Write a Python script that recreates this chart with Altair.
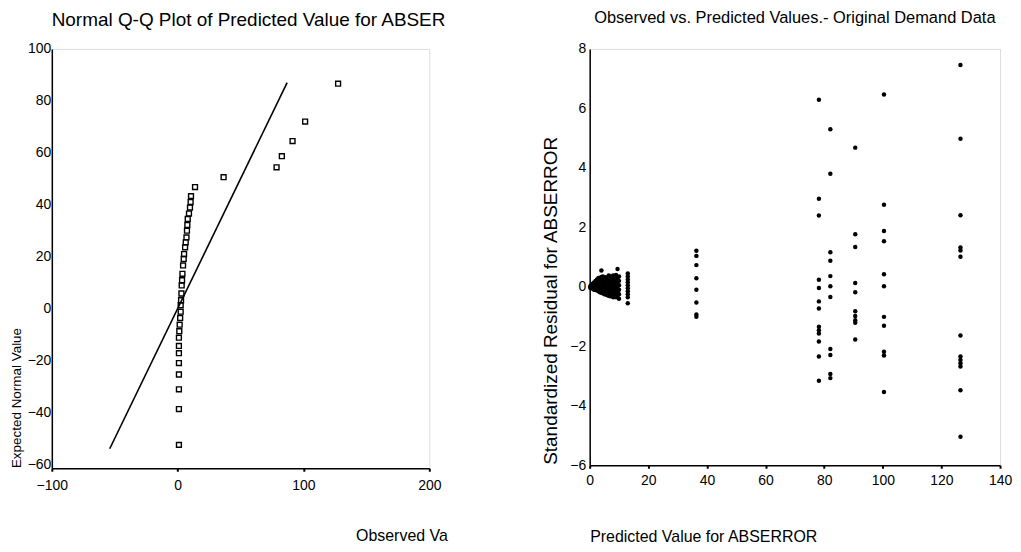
import altair as alt
import pandas as pd

FONT = "Liberation Sans"

# ---------------- Left panel: Normal Q-Q plot ----------------
qq_observed = [1.0, 1.0, 1.0, 1.0, 1.0, 1.0, 1.0, 1.0, 1.3, 1.6, 2.0, 2.4, 2.4, 2.7,
               3.0, 3.2, 3.5, 3.8, 4.3, 4.8, 5.1, 5.9, 6.4, 7.0, 7.4, 7.7, 8.0,
               9.0, 9.8, 10.3, 10.6, 13.8, 36.5, 78.6, 82.8, 91.3, 101.3, 127.5]
qq_expected = [-52.5, -38.7, -31.1, -25.4, -21.0, -17.2, -14.4, -11.2, -8.7, -6.2,
               -3.6, -1.2, 1.3, 3.2, 5.8, 8.9, 10.9, 13.4, 16.6, 19.1, 21.0, 23.6,
               25.5, 27.4, 30.0, 32.2, 34.5, 36.6, 38.9, 41.0, 43.3, 46.8, 50.6,
               54.4, 58.7, 64.5, 72.0, 86.6]
ref_line_x = [-54, 87]
ref_line_y = [-54, 87]
qq_x_ticks = [-100, 0, 100, 200]
qq_y_ticks = [-60, -40, -20, 0, 20, 40, 60, 80, 100]

# ---------------- Right panel: residuals vs predicted ----------------
cluster_x = ([0.2] * 2 + [0.5] * 3 + [1.0] * 3 + [1.5] * 4 + [2.0] * 4 + [2.5] * 4 +
             [3.0] * 5 + [3.5] * 5 + [4.0] * 6 + [4.5] * 6 + [5.0] * 5 + [5.5] * 5 +
             [6.0] * 5 + [6.5] * 6 + [7.0] * 6 + [7.5] * 5 + [8.0] * 6 + [8.5] * 5 +
             [9.0] * 6 + [9.5] * 6 + [10.0] * 6)
cluster_y = [0.02, -0.03,
             0.05, 0.0, -0.05,
             0.1, 0.02, -0.06,
             0.15, 0.05, -0.05, -0.1,
             0.2, 0.1, 0.0, -0.1,
             0.25, 0.12, 0.0, -0.12,
             0.3, 0.15, 0.02, -0.1, -0.15,
             0.3, 0.18, 0.05, -0.08, -0.18,
             0.55, 0.33, 0.2, 0.05, -0.1, -0.2,
             0.35, 0.2, 0.08, -0.05, -0.2, -0.22,
             0.3, 0.15, 0.0, -0.12, -0.25,
             0.32, 0.2, 0.05, -0.1, -0.25,
             0.25, 0.1, -0.05, -0.18, -0.28,
             0.38, 0.22, 0.08, -0.06, -0.2, -0.3,
             0.35, 0.2, 0.05, -0.1, -0.25, -0.32,
             0.3, 0.15, 0.0, -0.15, -0.3,
             0.38, 0.25, 0.1, -0.05, -0.2, -0.35,
             0.3, 0.15, 0.0, -0.15, -0.3,
             0.4, 0.25, 0.1, -0.05, -0.2, -0.35,
             0.6, 0.3, 0.15, 0.0, -0.15, -0.3,
             0.35, 0.2, 0.05, -0.1, -0.25, -0.4]
col13_y = [0.45, 0.35, 0.25, 0.15, 0.05, -0.05, -0.15, -0.25, -0.35, -0.55]
col36_y = [1.21, 1.04, 0.73, 0.29, -0.1, -0.53, -0.93, -1.01]
col78_y = [6.29, 2.96, 2.4, 0.24, -0.04, -0.49, -0.73, -1.34, -1.46, -1.57, -1.84, -2.34, -3.16]
col82_y = [5.3, 3.8, 1.16, 0.88, 0.36, 0.02, -0.34, -2.09, -2.29, -2.93, -3.07]
col90_y = [4.68, 1.77, 1.34, 0.13, -0.18, -0.82, -0.98, -1.12, -1.21, -1.77]
col100_y = [6.47, 2.76, 1.88, 1.53, 0.42, 0.02, -1.01, -1.31, -2.18, -2.31, -3.54]
col126_y = [7.46, 4.98, 2.41, 1.32, 1.22, 1.01, -1.64, -2.34, -2.46, -2.57, -2.68, -3.48, -5.04]
column_x = [13.0, 36.4, 78.2, 82.1, 90.6, 100.4, 126.5]
res_x_ticks = [0, 20, 40, 60, 80, 100, 120, 140]
res_y_ticks = [-6, -4, -2, 0, 2, 4, 6, 8]

# ---------------- Build tables ----------------
qq_df = pd.DataFrame({"obs": qq_observed, "exp": qq_expected})
line_df = pd.DataFrame({"obs": ref_line_x, "exp": ref_line_y})

px, py = list(cluster_x), list(cluster_y)
for cx, ys in zip(column_x, [col13_y, col36_y, col78_y, col82_y, col90_y, col100_y, col126_y]):
    px += [cx] * len(ys)
    py += ys
res_df = pd.DataFrame({"pred": px, "resid": py})

axis_common = dict(grid=False, labelFont=FONT, labelFontSize=14, labelColor="black",
                   labelFlush=False, labelOverlap=False,
                   titleFont=FONT, titleColor="black", titleFontWeight="normal",
                   domainColor="black", domainWidth=1.5, tickColor="black")

# Left panel
xL = alt.X("obs:Q", scale=alt.Scale(domain=[-100, 200], nice=False, zero=False),
           axis=alt.Axis(values=qq_x_ticks, title="Observed Va", titleFontSize=16,
                         titleX=351, titleY=68, titleAlign="center", titleBaseline="middle",
                         ticks=True, tickSize=3, tickWidth=2, labelPadding=7, **axis_common))
yL = alt.Y("exp:Q", scale=alt.Scale(domain=[-61.5, 100], nice=False, zero=False),
           axis=alt.Axis(values=qq_y_ticks, title="Expected Normal Value", titleFontSize=13.5,
                         titleAngle=270, titleX=-35, titleY=350, titleAlign="center",
                         titleBaseline="middle", ticks=False, labelPadding=1, **axis_common))

qq_points = alt.Chart(qq_df).mark_point(shape="square", filled=False, size=24,
                                        stroke="black", strokeWidth=1.4, opacity=1).encode(x=xL, y=yL)
qq_line = alt.Chart(line_df).mark_line(color="black", strokeWidth=1.6).encode(x=xL, y=yL)

left = alt.layer(qq_line, qq_points).properties(
    width=379, height=421,
    title=alt.TitleParams("Normal Q-Q Plot of Predicted Value for ABSER", font=FONT, fontSize=19,
                          fontWeight="normal", color="black", anchor="middle", dx=8, offset=12))

# Right panel
xR = alt.X("pred:Q", scale=alt.Scale(domain=[0, 140], nice=False, zero=False),
           axis=alt.Axis(values=res_x_ticks, title="Predicted Value for ABSERROR", titleFontSize=16,
                         titleX=0, titleY=72, titleAlign="left", titleBaseline="middle",
                         ticks=True, tickSize=3, tickWidth=2, labelPadding=5, **axis_common))
yR = alt.Y("resid:Q", scale=alt.Scale(domain=[-6, 8], nice=False, zero=False),
           axis=alt.Axis(values=res_y_ticks, title="Standardized Residual for ABSERROR", titleFontSize=19,
                         titleAngle=270, titleX=-39, titleY=417, titleAlign="left",
                         titleBaseline="middle", ticks=False, labelPadding=4, **axis_common))

right = alt.Chart(res_df).mark_circle(size=20, color="black", opacity=1).encode(x=xR, y=yR).properties(
    width=412, height=418,
    title=alt.TitleParams("Observed vs. Predicted Values.- Original Demand Data", font=FONT, fontSize=16.5,
                          fontWeight="normal", color="black", anchor="middle", offset=16))

chart = alt.hconcat(left, right, spacing=161, bounds="flush").properties(
    padding={"left": 1, "top": 0, "right": 0, "bottom": 0}
).configure_view(stroke="black", strokeWidth=1.5).configure(background="white")

chart.save("out.html", embed_options={"renderer": "svg", "actions": False})
